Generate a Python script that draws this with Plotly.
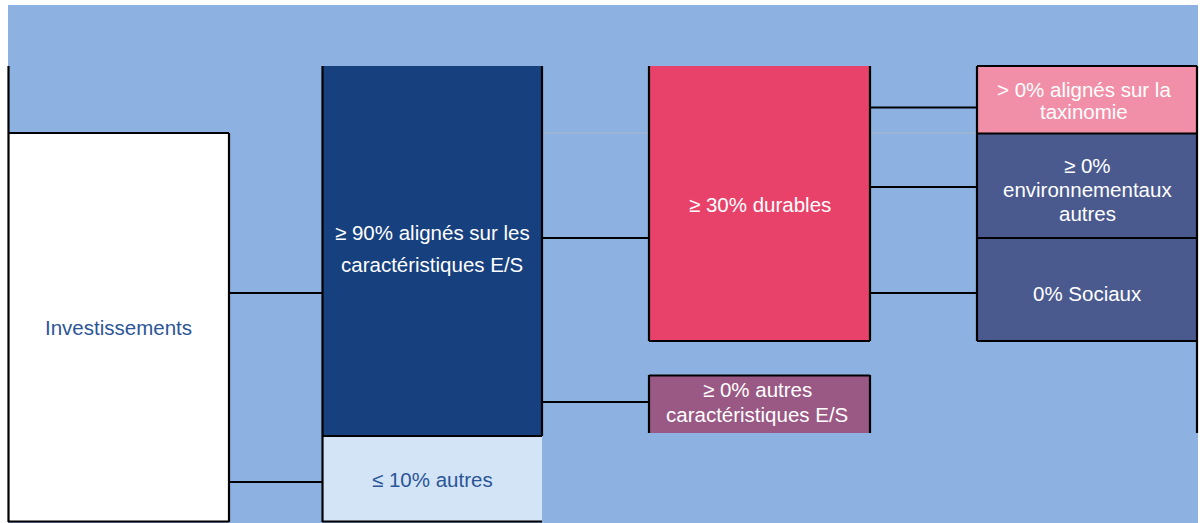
import plotly.graph_objects as go

# ---- content ----
box_labels = {
    "invest": ["Investissements"],
    "aligned": ["≥ 90% alignés sur les", "caractéristiques E/S"],
    "other": ["≤ 10% autres"],
    "durable": ["≥ 30% durables"],
    "other_es": ["≥ 0% autres", "caractéristiques E/S"],
    "taxo": ["> 0% alignés sur la", "taxinomie"],
    "env": ["≥ 0%", "environnementaux", "autres"],
    "social": ["0% Sociaux"],
}

# ---- geometry (x0, x1, y0, y1) in page pixel space ----
boxes = {
    "invest":   (8, 229, 133, 522),
    "aligned":  (322, 542, 66, 436),
    "other":    (322, 542, 436, 522),
    "durable":  (649, 870, 66, 341),
    "other_es": (649, 870, 375, 433),
    "taxo":     (977, 1197, 66, 133),
    "env":      (977, 1197, 133, 238),
    "social":   (977, 1197, 238, 341),
}
fills = {
    "invest": "#FFFFFF", "aligned": "#17407F", "other": "#D2E4F5",
    "durable": "#E8426B", "other_es": "#9A5884", "taxo": "#F18FA8",
    "env": "#4A5A8F", "social": "#4A5A8F",
}
text_colors = {"invest": "#2B5597", "other": "#2B5597"}
line_y = {
    "invest": [328], "aligned": [233, 265], "other": [480], "durable": [205],
    "other_es": [390, 415], "taxo": [90, 112], "env": [166, 190, 214],
    "social": [294],
}
text_x = {"taxo": 1084, "other_es": 757}

borders = [
    (8.5, 8.5, 66, 522),
    (8, 229, 133, 133), (229, 229, 133, 522), (8, 229, 521.5, 521.5),
    (322.5, 322.5, 66, 522), (542, 542, 66, 436), (322, 542, 436, 436),
    (322, 542, 521.5, 521.5),
    (649, 649, 66, 341), (870, 870, 66, 341), (649, 870, 341, 341),
    (977, 977, 66, 341), (1197, 1197, 66, 433), (977, 1197, 66, 66),
    (977, 1197, 133.5, 133.5), (977, 1197, 238, 238), (977, 1197, 341, 341),
    (649, 870, 375.5, 375.5), (649, 649, 375, 433), (870, 870, 375, 433),
    # connectors
    (229, 322, 293, 293), (229, 322, 482, 482),
    (542, 649, 238, 238), (542, 649, 402, 402),
    (870, 977, 107.5, 107.5), (870, 977, 187, 187), (870, 977, 293, 293),
]

fig = go.Figure()
shapes = [dict(type="rect", x0=8, x1=1198, y0=5, y1=523, fillcolor="#8DB1E1",
               line=dict(width=0), layer="below")]
shapes.append(dict(type="line", x0=542, x1=977, y0=133, y1=133,
                   line=dict(color="#A8B8CC", width=1)))
for k, (x0, x1, y0, y1) in boxes.items():
    shapes.append(dict(type="rect", x0=x0, x1=x1, y0=y0, y1=y1,
                       fillcolor=fills[k], line=dict(width=0)))
for (x0, x1, y0, y1) in borders:
    shapes.append(dict(type="line", x0=x0, x1=x1, y0=y0, y1=y1,
                       line=dict(color="#000000", width=2.2)))

annotations = []
for k, lines in box_labels.items():
    x0, x1, y0, y1 = boxes[k]
    cx = text_x.get(k, (x0 + x1) / 2)
    for txt, yy in zip(lines, line_y[k]):
        annotations.append(dict(x=cx, y=yy - 1, text=txt, showarrow=False,
                                xanchor="center", yanchor="middle",
                                font=dict(family="Liberation Sans, Arial", size=20.5,
                                          color=text_colors.get(k, "#FFFFFF"))))

fig.update_layout(
    width=1203, height=523, margin=dict(l=0, r=0, t=0, b=0),
    paper_bgcolor="#FFFFFF", plot_bgcolor="#FFFFFF",
    shapes=shapes, annotations=annotations, showlegend=False,
    xaxis=dict(range=[0, 1203], visible=False, fixedrange=True),
    yaxis=dict(range=[523, 0], visible=False, fixedrange=True),
)
fig.write_html("out.html", config={"displayModeBar": False},
               post_script="document.body.style.margin='0px';"
                           "document.body.style.overflow='hidden';")
